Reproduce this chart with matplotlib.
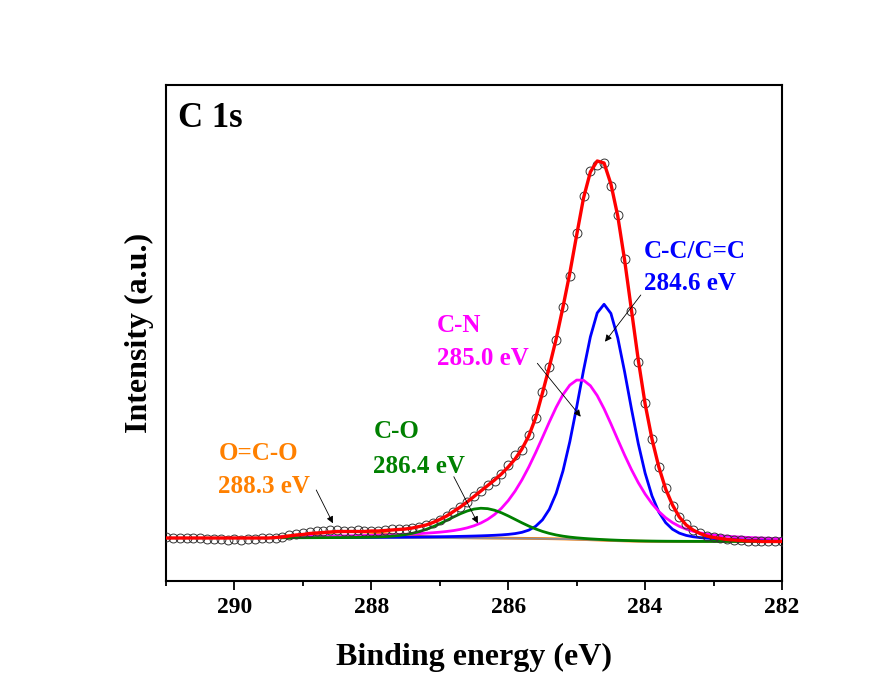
import numpy as np
import matplotlib
matplotlib.use("Agg")
import matplotlib.pyplot as plt
from matplotlib.ticker import MultipleLocator

plt.rcParams['font.family'] = ['Liberation Serif', 'DejaVu Serif']
plt.rcParams['font.weight'] = 'bold'

# binding energy grid of the measurement, 291.0 -> 282.0 eV in 0.1 eV steps
energy = np.round(np.linspace(291.0, 282.0, 91), 1)

# measured points (open circles), a.u.
raw = [
    0.5, 0, 0, -0.5, 0, -0.5, -1, -1, -1.5, -2,
    -1, -2, -1, -1.5, -0.5, 0, 0, 1, 2.5, 3.5,
    4.5, 5.5, 6.5, 7, 7.5, 7.5, 7, 7, 7.5, 7,
    6.5, 7, 8, 8.5, 9, 9, 10, 11, 13, 15,
    18, 22, 26, 31, 36, 42, 47, 53, 57, 64,
    73, 83, 88, 103, 120, 146, 171, 198, 231, 262,
    305, 342, 367, 373, 375, 352, 323, 279, 227, 176,
    135, 99, 71, 50, 32, 21, 14, 8, 5, 2,
    0.5, -0.5, -1.5, -2, -2.5, -3, -3, -3, -3.5, -3.5,
    -3.5,
]

# fitted envelope (red line)
envelope = [
    0, 0, 0, 0, 0, 0, 0, 0, 0, 0,
    0, 0, 0, 0, 0, 0, 0.5, 1, 2, 3,
    3.5, 4.5, 5, 5.5, 6, 6.5, 6.5, 6.5, 6.5, 6.5,
    7, 7, 7.5, 8, 8.5, 9, 10, 11.5, 13, 15.5,
    18.5, 22, 26.5, 31, 36, 41.5, 47, 52.5, 58, 64,
    71, 79, 89, 102, 120, 145, 171, 199, 231, 265,
    303, 340, 366, 377, 375, 354, 322, 278, 228, 178,
    134, 99, 71, 49, 33, 21, 13, 8, 4.5, 2,
    0.5, -0.5, -1.5, -2, -2.5, -3, -3, -3.5, -3.5, -3.5,
    -3.5,
]

# fitted components: centre (eV), height, FWHM (eV), Lorentzian fraction
names = ['C-C/C=C', 'C-N', 'C-O', 'O=C-O']
positions = ['284.6 eV', '285.0 eV', '286.4 eV', '288.3 eV']
centers = [284.6, 284.95, 286.38, 288.3]
heights = [236, 160, 30, 6.5]
fwhms = [0.88, 1.38, 1.2, 1.4]
etas = [0.18, 0.35, 0.2, 0.3]
peak_colors = ['#0000FF', '#FF00FF', '#008000', '#FF8000']

fit_lo, fit_hi = 282.0, 289.3
bg_left, bg_right = 0.0, -3.6

energy = np.asarray(energy)
raw = np.asarray(raw, dtype=float)
envelope = np.asarray(envelope, dtype=float)


def pseudo_voigt(x, c, h, fwhm, eta):
    t = ((x - c) / (fwhm / 2.0)) ** 2
    return h * (eta / (1.0 + t) + (1.0 - eta) * np.exp(-np.log(2.0) * t))


# Shirley background under the fit window
sel = (energy <= fit_hi + 1e-9) & (energy >= fit_lo - 1e-9)
e_fit = energy[sel]
y_fit = envelope[sel]
e_asc = e_fit[::-1]
y_asc = y_fit[::-1]
bg = np.full_like(y_asc, bg_right)
for _ in range(20):
    s = np.clip(y_asc - bg, 0, None)
    cum = np.concatenate([[0.0], np.cumsum(0.5 * (s[1:] + s[:-1]) * np.diff(e_asc))])
    bg = bg_right + (bg_left - bg_right) * cum / cum[-1]
bg = bg[::-1]

fig = plt.figure(figsize=(8.92, 6.87), dpi=100)
ax = fig.add_axes([0.1861, 0.1543, 0.6906, 0.722])

# orange under the grey baseline, green on top of the other components
comp_z = [3, 4, 5, 1]
ax.plot(e_fit, bg, color='#8c8c9a', lw=1.3, zorder=2)
for i in range(len(names)):
    comp = bg + pseudo_voigt(e_fit, centers[i], heights[i], fwhms[i], etas[i])
    ax.plot(e_fit, comp, color=peak_colors[i], lw=2.0, zorder=comp_z[i])

ax.plot(energy, raw, 'o', ms=6.4, mfc='none', mec='#333333', mew=0.7, zorder=6)
ax.plot(energy, envelope, color='#FF0000', lw=2.4, zorder=7)

# labels (left x, baseline of name, baseline of energy) and arrows
label_x = [284.02, 287.04, 287.97, 290.235]
name_y = [279.7, 206.3, 99.7, 78]
pos_y = [248, 173, 65.3, 44.7]
arrow_from = [(284.063, 243), (285.575, 174.7), (286.795, 61.3), (288.805, 48)]
arrow_to = [(284.586, 196.3), (284.941, 121.3), (286.444, 14.7), (288.561, 14.7)]
for i in range(len(names)):
    ax.text(label_x[i], name_y[i], names[i], color=peak_colors[i],
            fontsize=18, fontweight='bold', ha='left', va='baseline', zorder=8)
    ax.text(label_x[i], pos_y[i], positions[i], color=peak_colors[i],
            fontsize=18, fontweight='bold', ha='left', va='baseline', zorder=8)
    ax.annotate('', xy=arrow_to[i], xytext=arrow_from[i],
                arrowprops=dict(arrowstyle='-|>', color='black', lw=0.6,
                                mutation_scale=10, shrinkA=0, shrinkB=0),
                zorder=8)

ax.text(0.0195, 0.915, 'C 1s', transform=ax.transAxes, fontsize=25,
        fontweight='bold', ha='left', va='baseline')

ax.set_xlim(291, 282)
ax.set_ylim(-43, 453)
ax.xaxis.set_major_locator(MultipleLocator(2))
ax.xaxis.set_minor_locator(MultipleLocator(1))
ax.set_yticks([])
ax.tick_params(axis='x', which='major', direction='out', length=6.5, width=1.3,
               labelsize=17, pad=5)
ax.tick_params(axis='x', which='minor', direction='out', length=3.8, width=1.3)
for lab in ax.get_xticklabels():
    lab.set_fontweight('bold')
for sp in ax.spines.values():
    sp.set_linewidth(1.5)

ax.set_xlabel('Binding energy (eV)', fontsize=23, fontweight='bold', labelpad=18)
ax.set_ylabel('Intensity (a.u.)', fontsize=23, fontweight='bold', labelpad=9)

fig.savefig('out.png', dpi=100)
